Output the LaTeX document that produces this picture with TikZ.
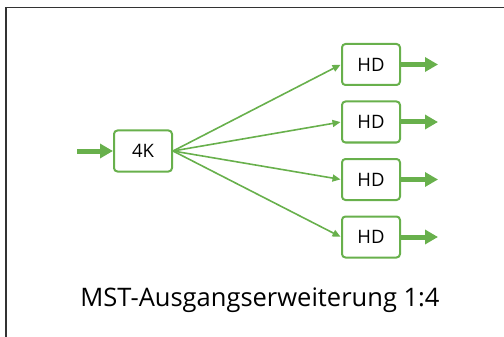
\documentclass[tikz,border=0pt]{standalone}
\usepackage{fontspec}
\setmainfont{Open Sans}
\usetikzlibrary{arrows.meta,calc}
\definecolor{grn}{HTML}{68B04C}
\definecolor{frm}{HTML}{333333}
\begin{document}
\begin{tikzpicture}[x=1pt,y=-1pt,
  box/.style={draw=grn,line width=2pt,rounded corners=3.5pt,minimum width=58pt,minimum height=41pt,inner sep=0pt,font=\fontsize{18.5}{20}\selectfont,fill=white},
  fan/.style={draw=grn,line width=1.6pt,-{Triangle[length=8pt,width=7pt]},shorten >=0.5pt},
  fat/.style={draw=grn,line width=5pt,-{Triangle[length=13pt,width=14pt]}}]
\useasboundingbox (0,0) rectangle (504,337);
\draw[frm,line width=1.4pt] (6,337) -- (6,7.5) -- (504,7.5);
\node[box] (k) at (143,151) {4K};
\node[box] (h1) at (371,64.5) {HD};
\node[box] (h2) at (371,122) {HD};
\node[box] (h3) at (371,179.5) {HD};
\node[box] (h4) at (371,237) {HD};
\coordinate (in) at (77,151);
\draw[fat] (in) -- (k.west);
\foreach \i in {1,2,3,4}{
  \draw[fan] (k.east) -- (h\i.west);
  \coordinate (o\i) at ($(h\i.east)+(37,0)$);
  \draw[fat] (h\i.east) -- (o\i);
}
\node[font=\fontsize{25.5}{28}\selectfont] (cap) at (260,300) {MST-Ausgangserweiterung 1:4};
\end{tikzpicture}
\end{document}
